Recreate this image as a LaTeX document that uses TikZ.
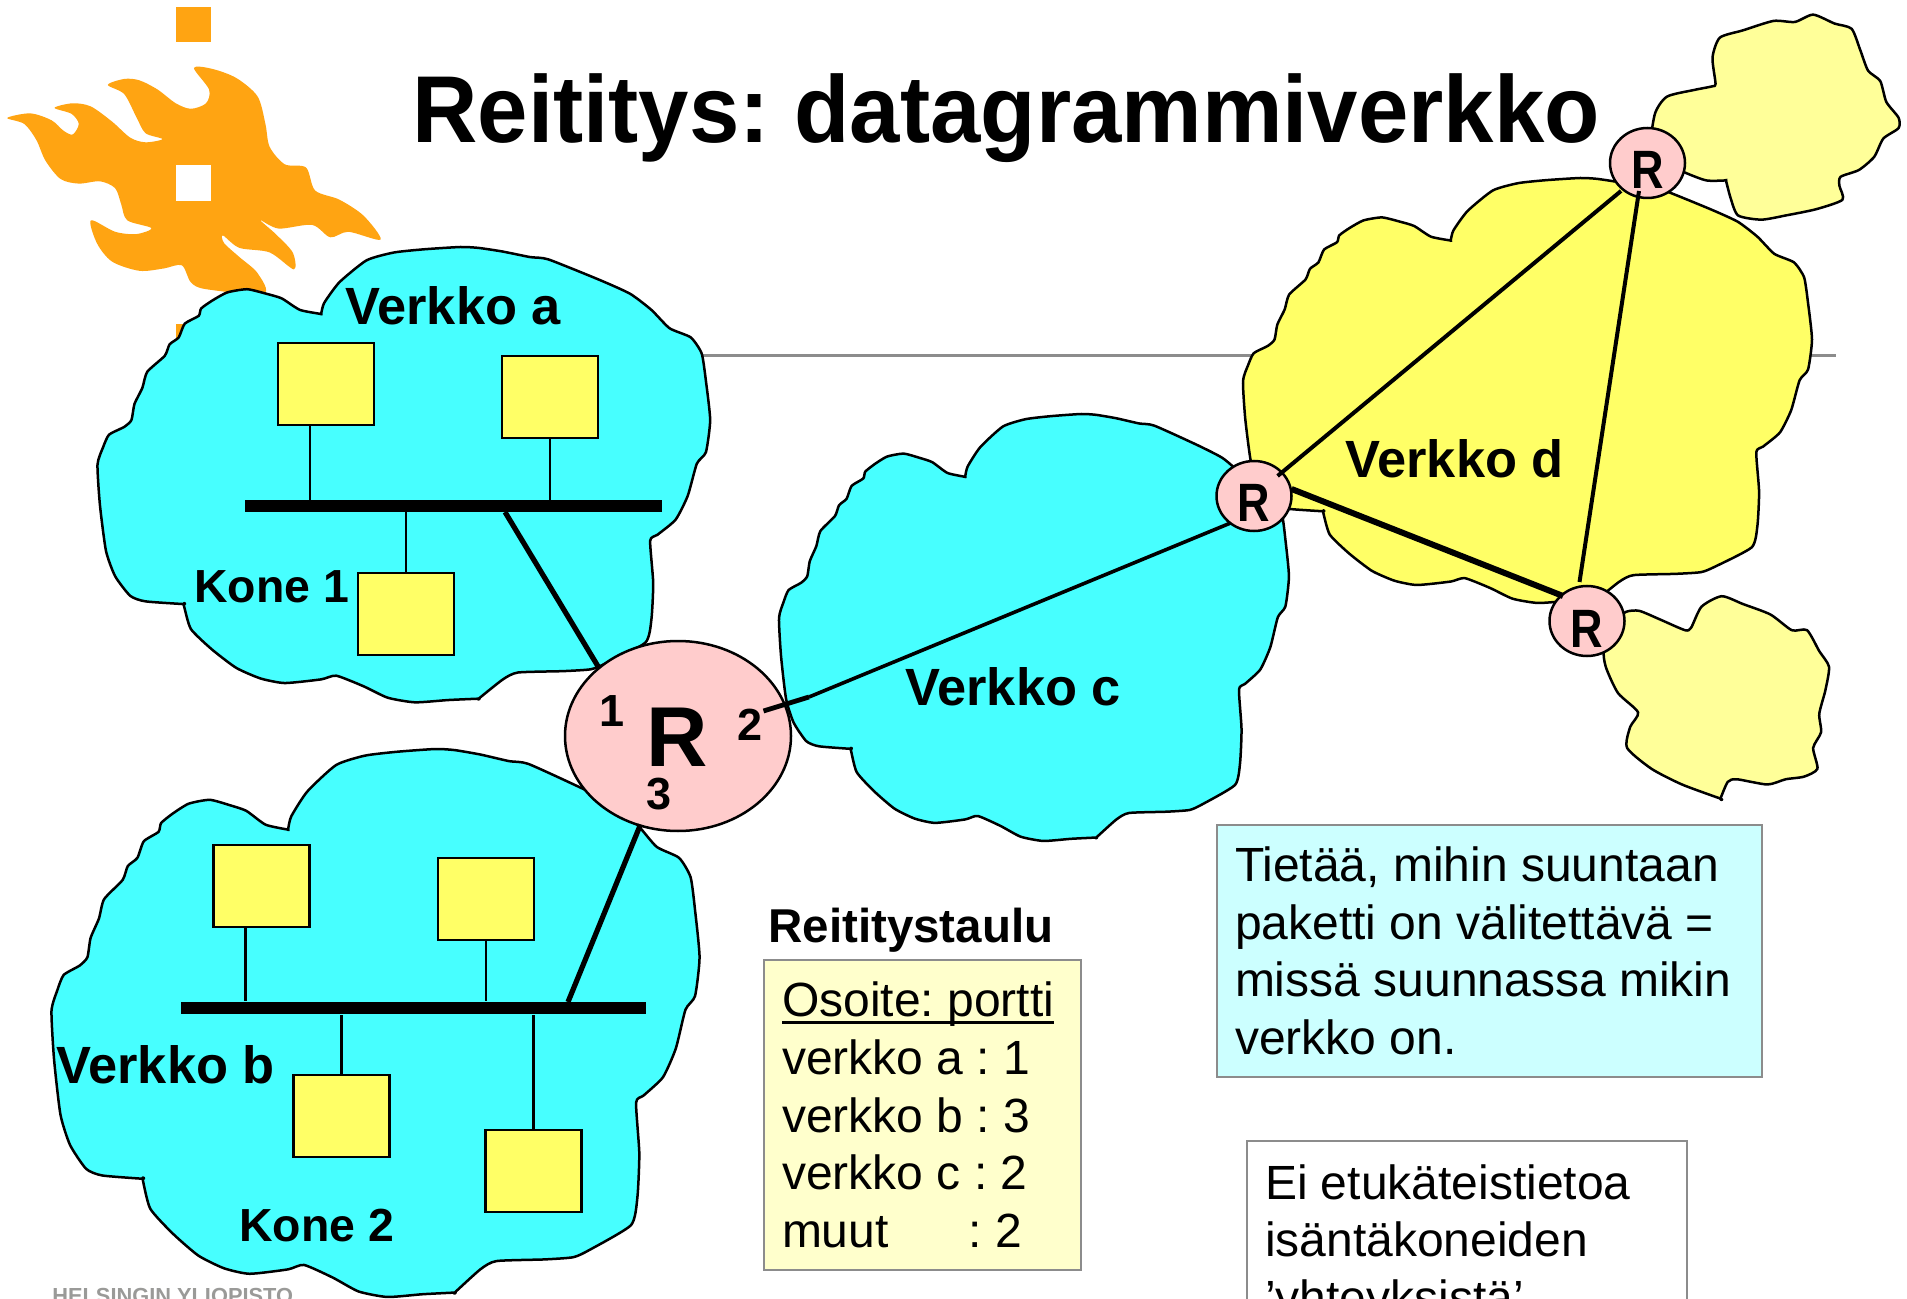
\documentclass[tikz,border=0pt]{standalone}
\usepackage{fontspec}
\usepackage{graphicx}
\setmainfont{Liberation Sans}
\usetikzlibrary{shapes.geometric}
\frenchspacing
\definecolor{flame}{HTML}{FFA412}
\definecolor{netcyan}{HTML}{47FFFF}
\definecolor{netyellow}{HTML}{FFFF66}
\definecolor{netpale}{HTML}{FFFF99}
\definecolor{rpink}{HTML}{FFCCCC}
\definecolor{notepale}{HTML}{FFFFCC}
\definecolor{notecyan}{HTML}{CCFFFF}
\definecolor{rulegray}{HTML}{8C8C8C}
\definecolor{footgray}{HTML}{9A9A98}
\newcommand{\bigcloud}{plot[smooth cycle,tension=.35] coordinates {(530,684)(530,684)(495,675)(465,650)(440,640)(408,630)(375,637)(350,655)(332,672)(328,688)(305,705)(295,735)(280,750)(272,775)(243,810)(235,845)(222,880)(217,915)(205,930)(180,947)(170,975)(161,1012)(165,1100)(175,1200)(190,1255)(215,1298)(240,1310)(303,1316)(303,1316)(315,1370)(350,1415)(390,1455)(430,1478)(470,1488)(530,1480)(555,1472)(600,1495)(640,1520)(685,1530)(740,1525)(790,1522)(790,1522)(830,1480)(855,1465)(930,1462)(975,1458)(1000,1445)(1065,1400)(1075,1350)(1078,1270)(1073,1178)(1085,1165)(1115,1132)(1135,1080)(1150,1010)(1165,985)(1172,915)(1165,830)(1158,770)(1140,735)(1105,715)(1075,675)(1040,640)(990,610)(905,565)(875,560)(830,548)(790,540)(760,538)(700,543)(650,550)(605,567)(560,615)(535,660)}}
\tikzset{
  x=.5pt,y=-.5pt,
  cloudline/.style={draw=black,line width=1.25pt,line join=round},
  host/.style={draw=black,fill=netyellow,line width=1.3pt,minimum width=48pt,minimum height=41pt,inner sep=0pt},
  bus/.style={fill=black,inner sep=0pt},
  wire/.style={draw=black,line width=1.35pt},
  heavy/.style={draw=black,line width=2.6pt},
  rbig/.style={ellipse,draw=black,fill=rpink,line width=1.25pt,inner sep=0pt,minimum width=113pt,minimum height=95pt},
  rsmall/.style={ellipse,draw=black,fill=rpink,line width=1.25pt,inner sep=0pt,minimum width=37.5pt,minimum height=35pt,font=\bfseries\fontsize{22.5}{26}\selectfont},
  netlabel/.style={anchor=base west,inner sep=0pt,font=\bfseries\fontsize{26.2}{30}\selectfont},
  konelabel/.style={anchor=base west,inner sep=0pt,font=\bfseries\fontsize{23.2}{30}\selectfont},
  portlabel/.style={inner sep=0pt,font=\bfseries\fontsize{22.5}{26}\selectfont},
  note/.style={draw=rulegray,line width=.9pt,inner xsep=9pt,inner ysep=0pt,align=left,font=\fontsize{24}{28.8}\selectfont,execute at begin node={\spaceskip=.278em\relax}},
}
\newcommand{\routerR}{\raisebox{-13pt}[0pt][0pt]{\scalebox{1}[1.2]{R}}}
\newcommand{\tableHead}[1]{\setbox0\hbox{#1}\rlap{\raisebox{-3.6pt}{\rule{\wd0}{1.4pt}}}\box0}
\begin{document}
\begin{tikzpicture}
\useasboundingbox (0,0) rectangle (1907,1299);
\clip (0,0) rectangle (1907,1299);
\fill[white] (0,0) rectangle (1907,1299);
% logo
\begin{scope}[xscale=.606,yscale=.459]
\fill[flame] (290,15) rectangle (349,91);
\fill[flame] plot[smooth cycle,tension=.5] coordinates {(320,148)(345,195)(340,225)(315,237)(290,225)(260,195)(230,175)(205,172)(178,185)(205,205)(225,255)(240,290)(268,303)(240,310)(215,300)(185,265)(150,232)(120,225)(90,235)(118,248)(130,270)(120,293)(105,285)(85,262)(50,247)(12,257)(40,270)(60,305)(75,350)(100,390)(130,400)(165,395)(190,410)(200,445)(210,480)(250,497)(225,510)(190,505)(150,480)(160,530)(185,570)(230,590)(270,585)(300,578)(315,615)(340,630)(435,640)(425,595)(395,560)(370,530)(368,513)(395,540)(445,550)(485,587)(483,550)(455,510)(430,480)(460,498)(515,490)(545,517)(575,505)(628,522)(600,470)(560,435)(520,415)(505,365)(470,358)(445,320)(438,270)(425,210)(390,170)(350,150)};
\fill[white] (290,360) rectangle (349,437);
\fill[flame] (290,705) rectangle (349,785);
\end{scope}
% rule
\coordinate (ruleL) at (300,355.5);
\coordinate (ruleR) at (1836,355.5);
\draw[rulegray,line width=1.6pt] (ruleL) -- (ruleR);
% footer
\node[anchor=base west,inner sep=0pt,text=footgray,font=\bfseries\fontsize{10.9}{13}\selectfont] (footer) at (52,1303.5) {HELSINGIN YLIOPISTO};
% title
\node[anchor=base west,inner sep=0pt,font=\bfseries\fontsize{47.5}{56}\selectfont] (title) at (412,143) {\scalebox{.953}[1]{Reititys: datagrammiverkko}};
% small clouds
\begin{scope}[shift={(950,0)},xscale=.61,yscale=.523]
\filldraw[cloudline,fill=netpale] plot[smooth cycle,tension=.4] coordinates {(1255,160)(1250,110)(1262,72)(1300,58)(1350,40)(1385,42)(1415,28)(1450,45)(1478,55)(1492,95)(1505,135)(1525,155)(1535,195)(1555,225)(1555,245)(1530,265)(1515,300)(1490,325)(1460,338)(1458,355)(1463,382)(1420,400)(1370,412)(1330,420)(1292,412)(1280,380)(1272,345)(1272,345)(1240,345)(1205,330)(1150,300)(1155,220)(1175,185)(1220,172)(1250,165)};
\filldraw[cloudline,fill=netpale] plot[smooth cycle,tension=.4] coordinates {(1108,1170)(1130,1168)(1165,1185)(1205,1205)(1215,1200)(1232,1160)(1265,1140)(1300,1155)(1345,1175)(1380,1205)(1405,1205)(1425,1245)(1441,1275)(1435,1320)(1425,1365)(1428,1400)(1415,1430)(1422,1470)(1400,1485)(1370,1490)(1340,1500)(1290,1490)(1275,1495)(1263,1527)(1263,1527)(1200,1500)(1150,1470)(1110,1430)(1115,1390)(1128,1362)(1095,1325)(1075,1275)(1072,1240)(1090,1190)};
\end{scope}
% big clouds
\begin{scope}[shift={(97.5,247)},xscale=.606,yscale=.459,shift={(-161,-538)}]
\filldraw[cloudline,fill=netcyan] \bigcloud;
\end{scope}
\begin{scope}[shift={(51.5,749)},xscale=.641,yscale=.5524,shift={(-161,-538)}]
\filldraw[cloudline,fill=netcyan] \bigcloud;
\end{scope}
\begin{scope}[shift={(1243,178)},xscale=.5628,yscale=.4284,shift={(-161,-538)}]
\filldraw[cloudline,fill=netyellow] \bigcloud;
\end{scope}
\begin{scope}[shift={(779,414)},xscale=.5044,yscale=.4304,shift={(-161,-538)}]
\filldraw[cloudline,fill=netcyan] \bigcloud;
\end{scope}
% network a
\node[host] (a1) at (326,384) {};
\node[host] (a2) at (550,397) {};
\node[host] (a3) at (406,614) {};
\node[bus,minimum width=208.5pt,minimum height=6pt] (busa) at (453.5,506) {};
\coordinate (ta1) at (310,500);
\draw[wire] (ta1 |- a1.south) -- (ta1 |- busa.north);
\draw[wire] (a2.south) -- (a2.south |- busa.north);
\draw[wire] (a3.north) -- (a3.north |- busa.south);
% network b
\node[host] (b1) at (261.5,886) {};
\node[host] (b2) at (486,899) {};
\node[host] (b3) at (341.5,1116) {};
\node[host] (b4) at (533.5,1171) {};
\node[bus,minimum width=232.5pt,minimum height=6.25pt] (busb) at (413.5,1008) {};
\coordinate (tb1) at (245.5,1008);
\draw[wire] (tb1 |- b1.south) -- (tb1 |- busb.north);
\draw[wire] (b2.south) -- (b2.south |- busb.north);
\draw[wire] (b3.north) -- (b3.north |- busb.south);
\draw[wire] (b4.north) -- (b4.north |- busb.south);
% routers
\node[rbig] (R) at (678,736) {};
\node[rsmall] (Rc) at (1254,496) {\routerR};
\node[rsmall] (Rt) at (1647.5,163) {\routerR};
\node[rsmall] (Rb) at (1587,621) {\routerR};
\node[inner sep=0pt,font=\bfseries\fontsize{42.5}{48}\selectfont] (Rlabel) at (677,737) {R};
\node[portlabel] (p1) at (612.5,711) {1};
\node[portlabel] (p2) at (750,724.5) {2};
\node[portlabel] (p3) at (659,794) {3};
% links
\coordinate (la) at (505,512);
\coordinate (lr1) at (599,668);
\draw[heavy] (la) -- (lr1);
\coordinate (lb) at (568,1002);
\coordinate (lr3) at (640.5,824.5);
\draw[heavy] (lb) -- (lr3);
\coordinate (lr2) at (763.5,711);
\coordinate (lmid) at (809,697);
\coordinate (lc) at (1230.6,523);
\draw[draw=black,line width=1.8pt] (lmid) -- (lc);
\draw[draw=black,line width=2.4pt] (lr2) -- (lmid);
\coordinate (d1) at (1277.6,476);
\coordinate (d2) at (1621,191);
\draw[draw=black,line width=2pt] (d1) -- (d2);
\coordinate (d3) at (1639,191);
\coordinate (d4) at (1579.5,582);
\draw[draw=black,line width=2pt] (d3) -- (d4);
\coordinate (d5) at (1291.6,489);
\coordinate (d6) at (1563,596);
\draw[draw=black,line width=3pt] (d5) -- (d6);
% labels
\node[netlabel] (va) at (345,325) {Verkko a};
\node[netlabel] (vb) at (56,1083) {Verkko b};
\node[netlabel] (vc) at (905,705) {Verkko c};
\node[netlabel] (vd) at (1345,478) {Verkko d};
\node[konelabel] (k1) at (194,603) {Kone 1};
\node[konelabel] (k2) at (239,1241) {Kone 2};
% notes
\node[anchor=base west,inner sep=0pt,font=\bfseries\fontsize{23.75}{28}\selectfont] (rt) at (768,942.5) {Reititystaulu};
\node[note,fill=notepale,text width=140.5pt,minimum height=155pt] (table) at (922.5,1115) {\tableHead{Osoite: portti}\\verkko a : 1\\verkko b : 3\\verkko c : 2\\muut\ \ \ \ \ \ : 2};
\node[note,fill=notecyan,text width=254.5pt,minimum height=126pt] (cy) at (1489.5,951) {Tietää, mihin suuntaan\\paketti on välitettävä =\\missä suunnassa mikin\\verkko on.};
\node[note,fill=white,text width=202pt,minimum height=103.5pt] (wh) at (1467,1244.5) {Ei etukäteistietoa\\isäntäkoneiden\\’yhteyksistä’};
\end{tikzpicture}
\end{document}
